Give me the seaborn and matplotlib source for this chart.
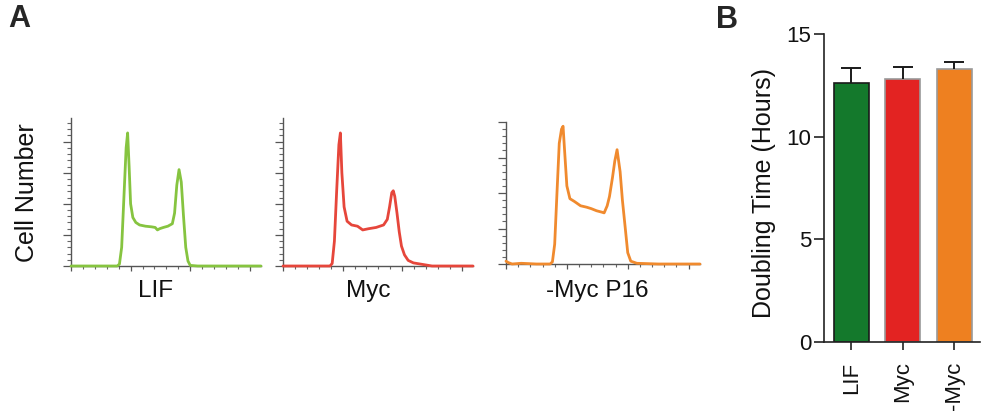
import numpy as np
import pandas as pd
import matplotlib
matplotlib.use("Agg")
import matplotlib.pyplot as plt
import seaborn as sns
from matplotlib.ticker import MultipleLocator

# ---------------- data ----------------
hist_labels = ["LIF", "Myc", "-Myc P16"]
hist_colors = ["#86c440", "#e6463b", "#f08a2e"]

lif_x = [0, 62, 65, 68, 71, 74, 76, 78, 80, 83, 87, 92, 100, 108, 113, 116, 119, 124, 130, 136, 139, 142, 145, 148, 151, 154, 157, 160, 170, 255]
lif_y = [0, 0, 3, 30, 110, 190, 214, 160, 100, 78, 70, 66, 64, 63, 62, 58, 60, 62, 64, 68, 85, 130, 155, 135, 80, 30, 8, 1, 0, 0]

myc_x = [0, 63, 66, 69, 72, 75, 77, 79, 82, 86, 92, 100, 107, 115, 125, 135, 140, 143, 146, 148, 150, 153, 156, 159, 163, 168, 175, 185, 200, 255]
myc_y = [0, 0, 4, 40, 120, 195, 214, 150, 95, 72, 66, 64, 58, 60, 62, 66, 75, 95, 118, 121, 112, 85, 55, 32, 18, 9, 5, 3, 0, 0]

p16_x = [0, 3, 8, 20, 40, 58, 61, 64, 67, 70, 73, 75, 77, 80, 84, 90, 98, 106, 112, 119, 126, 129, 133, 136, 140, 143, 146, 150, 153, 157, 160, 164, 172, 200, 255]
p16_y = [4, 2, 0, 1, 0, 0, 3, 28, 100, 170, 190, 194, 160, 110, 92, 88, 82, 80, 78, 75, 73, 72, 82, 95, 122, 145, 161, 130, 90, 48, 16, 4, 1, 0, 0]

hist_x = [lif_x, myc_x, p16_x]
hist_y = [lif_y, myc_y, p16_y]
hist_ymax = [238, 238, 200]

bar_categories = ["LIF", "Myc", "-Myc"]
bar_means = [12.6, 12.8, 13.3]
bar_errs = [0.75, 0.6, 0.32]
bar_colors = ["#14792c", "#e32322", "#ee8020"]
bar_edges = ["#1a1a1a", "#9a9a9a", "#9a9a9a"]

# ---------------- style ----------------
sns.set_theme(style="ticks")
plt.rcParams["font.family"] = ["Liberation Sans", "DejaVu Sans"]

W, H = 983, 413
fig = plt.figure(figsize=(W / 100, H / 100), dpi=100)

def px_axes(left, top, width, height):
    return fig.add_axes([left / W, 1 - (top + height) / H, width / W, height / H])

hist_boxes = [(71, 118, 190, 148), (283, 118, 190, 148), (506, 122, 194, 142)]
label_cx = [156, 368, 597]

for i in range(3):
    ax = px_axes(*hist_boxes[i])
    df = pd.DataFrame({"x": hist_x[i], "y": hist_y[i]})
    sns.lineplot(data=df, x="x", y="y", ax=ax, color=hist_colors[i], lw=2.0,
                 sort=False, estimator=None)
    for ln in ax.lines:
        ln.set_clip_on(False)
        ln.set_zorder(5)
        ln.set_solid_joinstyle("round")
    ax.set_xlim(0, 255)
    ax.set_ylim(0, hist_ymax[i])
    ax.xaxis.set_major_locator(MultipleLocator(80))
    ax.xaxis.set_minor_locator(MultipleLocator(16))
    ax.yaxis.set_major_locator(MultipleLocator(50))
    ax.yaxis.set_minor_locator(MultipleLocator(10))
    ax.tick_params(which="major", axis="y", length=6, width=0.9, color="#555555", labelleft=False)
    ax.tick_params(which="minor", axis="y", length=3, width=0.8, color="#666666")
    ax.tick_params(which="major", axis="x", length=3.5, width=0.9, color="#555555", labelbottom=False)
    ax.tick_params(which="minor", axis="x", length=2.5, width=0.8, color="#666666")
    for s in ["top", "right"]:
        ax.spines[s].set_visible(False)
    for s in ["left", "bottom"]:
        ax.spines[s].set_color("#555555")
        ax.spines[s].set_linewidth(1.0)
    ax.set_xlabel("")
    ax.set_ylabel("")
    fig.text(label_cx[i] / W, 1 - 291 / H, hist_labels[i], ha="center", va="center",
             fontsize=17.5, color="#111111")

fig.text(27 / W, 1 - 193 / H, "Cell Number", rotation=90, ha="center", va="center",
         fontsize=18, color="#111111")

# ---------------- bar chart ----------------
axb = px_axes(824, 34, 156, 308)
bdf = pd.DataFrame({"cat": bar_categories, "val": bar_means})
sns.barplot(data=bdf, x="cat", y="val", hue="cat", palette=bar_colors, legend=False,
            errorbar=None, width=0.68, ax=axb, saturation=1)
for p, ec in zip(axb.patches, bar_edges):
    p.set_edgecolor(ec)
    p.set_linewidth(1.2)
eb = axb.errorbar(range(len(bar_means)), bar_means,
                  yerr=[np.zeros(len(bar_errs)), bar_errs],
                  fmt="none", ecolor="#1a1a1a", elinewidth=1.4, capsize=7, capthick=1.4, zorder=1)
eb[1][0].set_visible(False)
axb.set_ylim(0, 15)
axb.set_xlim(-0.53, 2.5)
axb.set_yticks([0, 5, 10, 15])
axb.set_xlabel("")
axb.set_ylabel("")
axb.tick_params(axis="y", length=7, width=1.2, pad=2, labelsize=16, color="#222222", labelcolor="#111111")
axb.tick_params(axis="x", length=6, width=1.2, pad=8, labelsize=16, color="#222222", labelcolor="#111111",
                labelrotation=90)
for s in ["top", "right"]:
    axb.spines[s].set_visible(False)
for s in ["left", "bottom"]:
    axb.spines[s].set_color("#222222")
    axb.spines[s].set_linewidth(1.2)

fig.text(764 / W, 1 - 193 / H, "Doubling Time (Hours)", rotation=90, ha="center", va="center",
         fontsize=18, color="#111111")

fig.text(8 / W, 1 - 19 / H, "A", fontsize=22, fontweight="bold", ha="left", va="center")
fig.text(716 / W, 1 - 20 / H, "B", fontsize=22, fontweight="bold", ha="left", va="center")

fig.savefig("out.png", dpi=100)
